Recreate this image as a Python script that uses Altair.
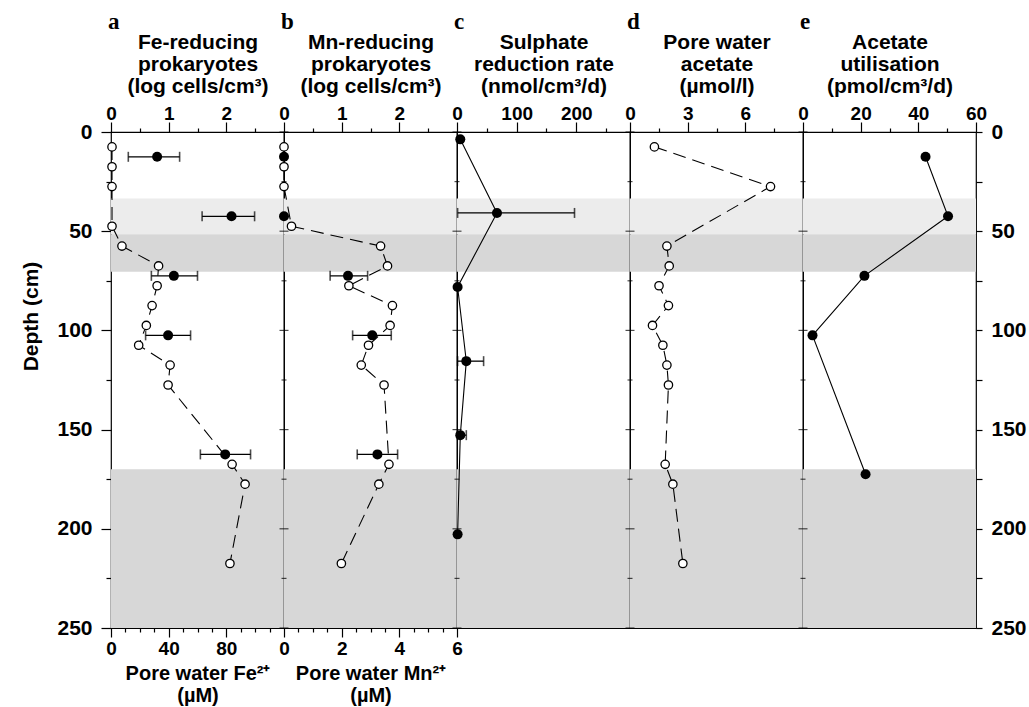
import altair as alt
import pandas as pd

# ---------------- data ----------------
open_depth = [7.5, 17.5, 27.5, 47.5, 57.5, 67.5, 77.5, 87.5, 97.5, 107.5, 117.5, 127.5, 167.5, 177.5, 217.5]
fe_pore = [0.7, 0.7, 0.7, 0.7, 7.6, 33.0, 32.0, 28.5, 24.5, 19.2, 41.0, 39.6, 84.0, 93.0, 82.5]
mn_pore = [0.0, 0.0, 0.0, 0.26, 3.35, 3.59, 2.25, 3.76, 3.68, 2.93, 2.68, 3.47, 3.64, 3.29, 1.99]

cell_depth = [12.5, 42.5, 72.5, 102.5, 162.5]
fe_cells = [0.80, 2.09, 1.09, 0.99, 1.98]
fe_cells_lo = [0.30, 1.58, 0.70, 0.60, 1.55]
fe_cells_hi = [1.19, 2.49, 1.50, 1.38, 2.42]
mn_cells = [0.0, 0.0, 1.11, 1.53, 1.62]
mn_cells_lo = [0.0, 0.0, 0.80, 1.19, 1.27]
mn_cells_hi = [0.0, 0.0, 1.45, 1.86, 1.97]

srr_depth = [3.7, 40.8, 78.1, 115.5, 152.8, 202.8]
srr = [5.5, 67.0, 1.0, 15.6, 5.5, 1.0]
srr_lo = [5.5, 1.0, 1.0, 1.0, 1.0, 1.0]
srr_hi = [5.5, 197.0, 1.0, 44.6, 15.6, 1.0]

acetate_depth = [7.5, 27.5, 57.5, 67.5, 77.5, 87.5, 97.5, 107.5, 117.5, 127.5, 167.5, 177.5, 217.5]
acetate = [1.27, 7.31, 1.92, 2.04, 1.51, 2.00, 1.17, 1.71, 1.92, 2.00, 1.83, 2.23, 2.75]

util_depth = [12.5, 42.5, 72.5, 102.5, 172.5]
util = [42.5, 50.3, 21.3, 3.3, 21.7]

band_top = [33.5, 51.5, 170.0]
band_bottom = [51.5, 70.5, 250.0]
band_texture = ["sparse", "dense", "dense"]

depth_ticks = [0, 25, 50, 75, 100, 125, 150, 175, 200, 225, 250]
depth_major = [0, 50, 100, 150, 200, 250]
depth_minor = [25, 75, 125, 175, 225]

# bottom-axis units per top-axis unit (panels a and b share one x scale per panel)
fe_per_unit = 40.0   # Fe2+ 0-120 µM over log 0-3
mn_per_unit = 2.0    # Mn2+ 0-6 µM over log 0-3
bottom_tick_pos = [0, 0.25, 0.5, 0.75, 1, 1.25, 1.5, 1.75, 2, 2.25, 2.5, 2.75, 3]

# ---------------- helpers ----------------
FONT = "Liberation Sans"
W, H = 173, 496
yscale = alt.Scale(domain=[0, 250], reverse=True, nice=False, zero=False)

bands_df = pd.DataFrame({"top": band_top, "bottom": band_bottom, "texture": band_texture})


def top_axis(values, major, title):
    return alt.Axis(orient="top", values=values, title=title,
                    labelExpr=f"({major}) ? format(datum.value, 'd') : ''",
                    tickSize={"condition": {"test": major, "value": 10}, "value": 4},
                    labelPadding=-1, labelFontSize=19, labelFlush=False, labelOverlap=False,
                    titleFontSize=21, titleLineHeight=22, titlePadding=8, domain=False)


def bottom_axis(values, factor, title, last_label):
    expr = (f"datum.value % 1 === 0 && datum.value <= {last_label} ? "
            f"format(datum.value * {factor}, 'd') : ''")
    return alt.Axis(orient="bottom", values=values, title=title, labelExpr=expr,
                    tickSize={"condition": {"test": "datum.value % 1 === 0", "value": 9}, "value": 4},
                    labelPadding=2, labelFontSize=19, labelFlush=False, labelOverlap=False,
                    titleFontSize=20, titleLineHeight=22, titlePadding=5, domain=False)


def y_axis_left():
    return alt.Axis(orient="left", values=depth_ticks, title="Depth (cm)",
                    labelExpr="datum.value % 50 === 0 ? format(datum.value, 'd') : ''",
                    tickSize={"condition": {"test": "datum.value % 50 === 0", "value": 10}, "value": 5},
                    labelPadding=9, labelFontSize=21, titleFontSize=21, titlePadding=15,
                    titleY=184, labelFlush=False, labelOverlap=False, domain=False)


def y_axis_right():
    return alt.Axis(orient="right", values=depth_ticks, title=None,
                    labelExpr="datum.value % 50 === 0 ? format(datum.value, 'd') : ''",
                    tickSize=6, labelPadding=9, labelFontSize=21,
                    labelFlush=False, labelOverlap=False, domain=False)


def bands_layer(yaxis):
    return alt.Chart(bands_df).mark_rect().encode(
        y=alt.Y("top:Q", scale=yscale, axis=yaxis),
        y2="bottom:Q",
        color=alt.Color("texture:N", legend=None,
                        scale=alt.Scale(domain=["sparse", "dense"], range=["#ececec", "#d7d7d7"])),
    )


def border_ticks():
    out = []
    for vals, size in ((depth_major, 9), (depth_minor, 5)):
        df = pd.DataFrame({"depth": vals})
        out.append(alt.Chart(df).mark_tick(orient="horizontal", size=size, thickness=1.2,
                                           color="black").encode(
            x=alt.value(0), y=alt.Y("depth:Q", scale=yscale, axis=None)))
    return out


def xenc(field, xscale, axis=None):
    return alt.X(f"{field}:Q", scale=xscale, axis=axis)


def profile_line(depth, val, xscale, dashed, factor=1.0):
    df = pd.DataFrame({"depth": depth, "val": val})
    kw = {"strokeDash": [13, 7]} if dashed else {}
    return alt.Chart(df).transform_calculate(xv=f"datum.val / {factor}").mark_line(
        color="black", strokeWidth=1.1, **kw).encode(
        x=xenc("xv", xscale),
        y=alt.Y("depth:Q", scale=yscale, axis=None),
        order=alt.Order("depth:Q"),
    )


def open_points(depth, val, xscale, axis=None, factor=1.0):
    df = pd.DataFrame({"depth": depth, "val": val})
    return alt.Chart(df).transform_calculate(xv=f"datum.val / {factor}").mark_circle(
        size=70, fill="white", stroke="black", strokeWidth=1.3, opacity=1).encode(
        x=xenc("xv", xscale, axis),
        y=alt.Y("depth:Q", scale=yscale, axis=None),
    )


def filled_points(depth, val, xscale, axis=None):
    df = pd.DataFrame({"depth": depth, "val": val})
    return alt.Chart(df).mark_circle(size=100, color="black", opacity=1).encode(
        x=xenc("val", xscale, axis),
        y=alt.Y("depth:Q", scale=yscale, axis=None),
    )


def error_layers(depth, val, lo, hi, xscale):
    df = pd.DataFrame({"depth": depth, "val": val, "lo": lo, "hi": hi})
    df = df[df["hi"] > df["lo"]]
    caps = pd.concat([
        pd.DataFrame({"depth": df["depth"], "end": df["lo"]}),
        pd.DataFrame({"depth": df["depth"], "end": df["hi"]}),
    ])
    rule = alt.Chart(df).mark_rule(color="black", strokeWidth=1.3).encode(
        x=xenc("lo", xscale), x2="hi:Q",
        y=alt.Y("depth:Q", scale=yscale, axis=None),
    )
    cap = alt.Chart(caps).mark_tick(orient="vertical", size=10, thickness=1.6, color="black").encode(
        x=xenc("end", xscale),
        y=alt.Y("depth:Q", scale=yscale, axis=None),
    )
    return [rule, cap]


def letter(t):
    return alt.TitleParams(t, anchor="start", frame="group", font="Liberation Serif",
                           fontSize=23, fontWeight="bold", color="black", offset=-3, dx=-3)


def finish(layers, t):
    return alt.layer(*layers).resolve_axis(x="independent", y="independent").properties(
        width=W, height=H, title=letter(t))


# ---------------- panel a ----------------
xa = alt.Scale(domain=[0, 3], nice=False, zero=False)
pa = finish(
    [bands_layer(y_axis_left())]
    + [profile_line(open_depth, fe_pore, xa, True, fe_per_unit)]
    + error_layers(cell_depth, fe_cells, fe_cells_lo, fe_cells_hi, xa)
    + [open_points(open_depth, fe_pore, xa,
                   bottom_axis(bottom_tick_pos[:-1], fe_per_unit, ["Pore water Fe²⁺", "(µM)"], 2),
                   fe_per_unit),
       filled_points(cell_depth, fe_cells, xa,
                     top_axis([0, 0.5, 1, 1.5, 2, 2.5], "datum.value % 1 === 0",
                              ["Fe-reducing", "prokaryotes", "(log cells/cm³)"]))],
    "a")

# ---------------- panel b ----------------
xb = alt.Scale(domain=[0, 3], nice=False, zero=False)
pb = finish(
    [bands_layer(None)] + border_ticks()
    + [profile_line(open_depth, mn_pore, xb, True, mn_per_unit)]
    + error_layers(cell_depth, mn_cells, mn_cells_lo, mn_cells_hi, xb)
    + [open_points(open_depth, mn_pore, xb,
                   bottom_axis(bottom_tick_pos, mn_per_unit, ["Pore water Mn²⁺", "(µM)"], 3),
                   mn_per_unit),
       filled_points(cell_depth, mn_cells, xb,
                     top_axis([0, 0.5, 1, 1.5, 2, 2.5], "datum.value % 1 === 0",
                              ["Mn-reducing", "prokaryotes", "(log cells/cm³)"]))],
    "b")

# ---------------- panel c ----------------
xc = alt.Scale(domain=[0, 290], nice=False, zero=False)
pc = finish(
    [bands_layer(None)] + border_ticks()
    + [profile_line(srr_depth, srr, xc, False)]
    + error_layers(srr_depth, srr, srr_lo, srr_hi, xc)
    + [filled_points(srr_depth, srr, xc,
                     top_axis([0, 50, 100, 150, 200, 250], "datum.value % 100 === 0",
                              ["Sulphate", "reduction rate", "(nmol/cm³/d)"]))],
    "c")

# ---------------- panel d ----------------
xd = alt.Scale(domain=[0, 9], nice=False, zero=False)
pd_ = finish(
    [bands_layer(None)] + border_ticks()
    + [profile_line(acetate_depth, acetate, xd, True),
       open_points(acetate_depth, acetate, xd,
                   top_axis([0, 1.5, 3, 4.5, 6, 7.5], "datum.value % 3 === 0",
                            ["Pore water", "acetate", "(µmol/l)"]))],
    "d")

# ---------------- panel e ----------------
xe = alt.Scale(domain=[0, 60], nice=False, zero=False)
pe = finish(
    [bands_layer(y_axis_right())] + border_ticks()
    + [profile_line(util_depth, util, xe, False),
       filled_points(util_depth, util, xe,
                     top_axis([0, 10, 20, 30, 40, 50, 60], "datum.value % 20 === 0",
                              ["Acetate", "utilisation", "(pmol/cm³/d)"]))],
    "e")

chart = alt.hconcat(pa, pb, pc, pd_, pe, spacing=0, bounds="flush").properties(
    padding={"left": 20, "top": 10, "right": 0, "bottom": 0}
).configure_view(stroke="black", strokeWidth=1.2).configure_axis(
    labelFont=FONT, titleFont=FONT, labelFontWeight="bold", titleFontWeight="bold",
    labelColor="black", titleColor="black", tickColor="black", tickWidth=1.2, grid=False
).configure_title(color="black")

chart.save("out.html", embed_options={"renderer": "svg", "actions": False})
